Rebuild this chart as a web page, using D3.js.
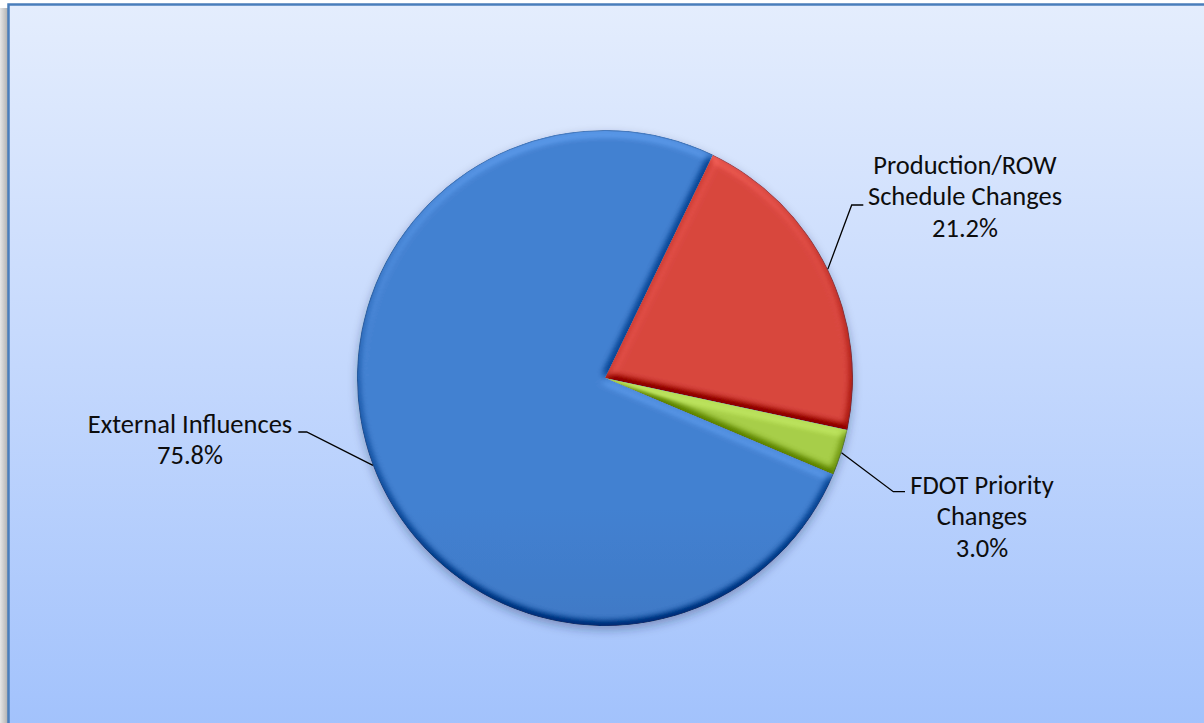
<!DOCTYPE html>
<html>
<head>
<meta charset="utf-8">
<script src="https://cdn.jsdelivr.net/npm/d3@7"></script>
<style>
  html, body { margin: 0; padding: 0; background: #ffffff; }
  svg { display: block; }
  text { font-family: Carlito, Lato, "Open Sans", sans-serif; fill: #0d0d0d; }
</style>
</head>
<body>
<svg id="chart" width="1204" height="723"></svg>
<script>
// Causes of schedule changes, share of total (%)
const categories = ["Production/ROW Schedule Changes", "FDOT Priority Changes", "External Influences"];
const labelLines = [["Production/ROW", "Schedule Changes"], ["FDOT Priority", "Changes"], ["External Influences"]];
const shares = [21.2, 3.0, 75.8];

// Slice fills: [top, bottom] of each vertical gradient
const sliceColors = [["#d8463e", "#bb362d"], ["#a7ce48", "#89b02b"], ["#4381d1", "#325fa2"]];

// Label layout: leader elbow, leader end, text anchor (centre x, first baseline)
const labelLayout = [
  { elbow: [851.7, 205], end: [863.3, 205], tx: 965, ty: 173.5 },
  { elbow: [893.3, 491.7], end: [905, 491.7], tx: 982, ty: 493.5 },
  { elbow: [306.7, 432], end: [298.3, 432], tx: 190, ty: 432.5 }
];

const W = 1204, H = 723;
const cx = 605, cy = 378, R = 248;
const startDeg = 25.8;
const lineStep = 31.8;

const svg = d3.select("#chart");
const defs = svg.append("defs");

// Chart-area background gradient
const bg = defs.append("linearGradient").attr("id", "bgGrad")
  .attr("x1", 0).attr("y1", 0).attr("x2", 0).attr("y2", 1);
bg.append("stop").attr("offset", "0%").attr("stop-color", "#e4edfd");
bg.append("stop").attr("offset", "50%").attr("stop-color", "#c4d8fd");
bg.append("stop").attr("offset", "100%").attr("stop-color", "#a2c2fc");

// Soft shadow along the left side of the frame
const sh = defs.append("linearGradient").attr("id", "shadowGrad")
  .attr("x1", 0).attr("y1", 0).attr("x2", 1).attr("y2", 0);
sh.append("stop").attr("offset", "0%").attr("stop-color", "#e6e6e6");
sh.append("stop").attr("offset", "100%").attr("stop-color", "#a8a8a8");

sliceColors.forEach((c, i) => {
  const g = defs.append("linearGradient").attr("id", "slice" + i)
    .attr("gradientUnits", "userSpaceOnUse")
    .attr("x1", 0).attr("y1", cy - R).attr("x2", 0).attr("y2", cy + R);
  g.append("stop").attr("offset", "0%").attr("stop-color", c[0]);
  g.append("stop").attr("offset", "100%").attr("stop-color", c[1]);
});

// Rounded bevel lit from above
const bevel = defs.append("filter").attr("id", "bevel")
  .attr("x", "-5%").attr("y", "-5%").attr("width", "110%").attr("height", "110%")
  .attr("color-interpolation-filters", "sRGB");
bevel.append("feGaussianBlur").attr("in", "SourceAlpha").attr("stdDeviation", 4.5).attr("result", "blur");
const light = bevel.append("feDiffuseLighting").attr("in", "blur")
  .attr("surfaceScale", 6).attr("diffuseConstant", 1).attr("lighting-color", "#ffffff").attr("result", "lit");
light.append("feDistantLight").attr("azimuth", 265).attr("elevation", 55);
bevel.append("feComposite").attr("in", "SourceGraphic").attr("in2", "lit")
  .attr("operator", "arithmetic").attr("k1", 0).attr("k2", 1).attr("k3", 0.45).attr("k4", -0.45 * Math.sin(55 * Math.PI / 180))
  .attr("result", "shaded");
bevel.append("feComposite").attr("in", "shaded").attr("in2", "SourceAlpha").attr("operator", "in");

// Soft shadow under the pie
const drop = defs.append("filter").attr("id", "pieShadow")
  .attr("x", "-10%").attr("y", "-10%").attr("width", "120%").attr("height", "125%");
drop.append("feDropShadow").attr("dx", 0).attr("dy", 4).attr("stdDeviation", 5)
  .attr("flood-color", "#1a2a50").attr("flood-opacity", 0.35);

// Frame
svg.append("rect").attr("x", 0).attr("y", 8).attr("width", 9).attr("height", H - 8)
  .attr("fill", "url(#shadowGrad)");
svg.append("rect").attr("x", 8.5).attr("y", 4.5).attr("width", W).attr("height", H)
  .attr("fill", "url(#bgGrad)").attr("stroke", "#4a7ebb").attr("stroke-width", 2.5);

// Pie
const pie = d3.pie().sort(null).value(d => d)
  .startAngle(startDeg * Math.PI / 180).endAngle(startDeg * Math.PI / 180 + 2 * Math.PI);
const arcs = pie(shares);
const arc = d3.arc().innerRadius(0).outerRadius(R);

const pieG = svg.append("g").attr("transform", `translate(${cx},${cy})`).attr("filter", "url(#pieShadow)");
pieG.selectAll("path.slice").data(arcs).join("path")
  .attr("class", "slice")
  .attr("d", arc)
  .attr("fill", (d, i) => `url(#slice${i})`)
  .attr("filter", "url(#bevel)");

// Thin darker rim around the pie
pieG.append("circle").attr("r", R - 0.5).attr("fill", "none")
  .attr("stroke", "#1f3a66").attr("stroke-opacity", 0.3).attr("stroke-width", 1);

// Leader lines and labels
const labels = svg.append("g");
arcs.forEach((d, i) => {
  const mid = (d.startAngle + d.endAngle) / 2;
  const p0 = [cx + R * Math.sin(mid), cy - R * Math.cos(mid)];
  const L = labelLayout[i];
  labels.append("polyline")
    .attr("points", [p0, L.elbow, L.end].map(p => p.join(",")).join(" "))
    .attr("fill", "none").attr("stroke", "#000").attr("stroke-width", 1.3);
  const lines = labelLines[i].concat([d3.format(".1f")(shares[i]) + "%"]);
  const t = labels.append("text").attr("text-anchor", "middle").attr("font-size", 26.5);
  lines.forEach((s, k) => {
    t.append("tspan").attr("x", L.tx).attr("y", L.ty + k * lineStep).text(s);
  });
});
</script>
</body>
</html>
